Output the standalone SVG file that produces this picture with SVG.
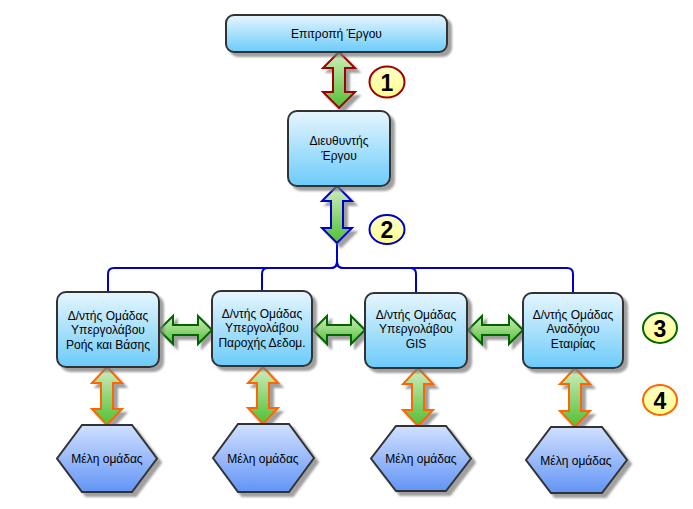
<svg xmlns="http://www.w3.org/2000/svg" width="693" height="509" viewBox="0 0 693 509">
<defs>
<linearGradient id="gBox" x1="0" y1="0" x2="0" y2="1"><stop offset="0" stop-color="#e6f6fe"/><stop offset="1" stop-color="#6ccbfa"/></linearGradient>
<linearGradient id="gHex" x1="0" y1="0" x2="0" y2="1"><stop offset="0" stop-color="#d0e0ff"/><stop offset="1" stop-color="#6294f6"/></linearGradient>
<linearGradient id="gArr" x1="0" y1="0" x2="0" y2="1"><stop offset="0" stop-color="#d2edc0"/><stop offset="1" stop-color="#50c032"/></linearGradient>
<linearGradient id="gCirc" x1="0" y1="0" x2="0" y2="1"><stop offset="0" stop-color="#ffffc8"/><stop offset="1" stop-color="#ffff90"/></linearGradient>
<filter id="sh" x="-20%" y="-20%" width="150%" height="150%">
<feGaussianBlur in="SourceAlpha" stdDeviation="0.8" result="b"/>
<feOffset in="b" dx="4" dy="4" result="o"/>
<feFlood flood-color="#777" flood-opacity="0.7"/>
<feComposite in2="o" operator="in" result="s"/>
<feMerge><feMergeNode in="s"/><feMergeNode in="SourceGraphic"/></feMerge>
</filter>
</defs>
<style>
.box{fill:url(#gBox);stroke:#333;stroke-width:2;filter:url(#sh)}
.hex{fill:url(#gHex);stroke:#333;stroke-width:2;filter:url(#sh)}
.arr{fill:url(#gArr);stroke-width:2;stroke-linejoin:miter;filter:url(#sh)}
.red{stroke:#a00000}.blue{stroke:#0000cc}.green{stroke:#006600}.orange{stroke:#ff6600}
.circ{fill:url(#gCirc);stroke-width:2}
.t{font-family:"Liberation Sans",Arial,sans-serif;font-size:12px;fill:#000;text-anchor:middle}
.n{font-family:"Liberation Sans",Arial,sans-serif;font-size:23px;font-weight:bold;fill:#000;text-anchor:middle}
.br{fill:none;stroke:#0000cc;stroke-width:2}
</style>

<g id="connectors">
<path class="br" d="M337,243 V262 Q337,268 331,268 H114 Q108,268 108,274 V292"/>
<path class="br" d="M337,243 V262 Q337,268 331,268 H268 Q262,268 262,274 V292"/>
<path class="br" d="M337,243 V262 Q337,268 343,268 H410 Q416,268 416,274 V293"/>
<path class="br" d="M337,243 V262 Q337,268 343,268 H567 Q573,268 573,274 V293"/>
<polygon id="arrow1" class="arr red" points="339,52 355,68 345,68 345,92 355,92 339,108 323,92 333,92 333,68 323,68"/>
<polygon id="arrow2" class="arr blue" points="337,186 352,201 343,201 343,228 352,228 337,243 322,228 331,228 331,201 322,201"/>
<polygon class="arr green" points="159,330 173,316 173,325 198,325 198,316 212,330 198,344 198,335 173,335 173,344"/>
<polygon class="arr green" points="313,330 327,316 327,325 351,325 351,316 365,330 351,344 351,335 327,335 327,344"/>
<polygon class="arr green" points="468,330 482,316 482,325 509,325 509,316 523,330 509,344 509,335 482,335 482,344"/>
<polygon class="arr orange" points="107,367 122,383 113,383 113,409 122,409 107,425 92,409 101,409 101,383 92,383"/>
<polygon class="arr orange" points="263,367 278,383 269,383 269,408 278,408 263,424 248,408 257,408 257,383 248,383"/>
<polygon class="arr orange" points="418,368 433,384 424,384 424,410 433,410 418,426 403,410 412,410 412,384 403,384"/>
<polygon class="arr orange" points="575,368 590,384 581,384 581,411 590,411 575,427 560,411 569,411 569,384 560,384"/>
</g>

<g id="n-committee">
<rect class="box" x="226" y="15" width="221" height="37" rx="8"/>
<text class="t" x="336.5" y="37.5">Επιτροπή Έργου</text>
</g>
<g id="n-director">
<rect class="box" x="288" y="111" width="102" height="75" rx="9"/>
<text class="t" x="339" y="145">Διευθυντής</text>
<text class="t" x="339" y="159.5">Έργου</text>
</g>
<g id="n-lead1">
<rect class="box" x="57" y="292" width="102" height="75" rx="9"/>
<text class="t" x="108" y="319.5">Δ/ντής Ομάδας</text>
<text class="t" x="108" y="334">Υπεργολάβου</text>
<text class="t" x="108" y="348.5">Ροής και Βάσης</text>
</g>
<g id="n-lead2">
<rect class="box" x="212" y="291" width="100" height="75" rx="9"/>
<text class="t" x="262" y="317.5">Δ/ντής Ομάδας</text>
<text class="t" x="262" y="332">Υπεργολάβου</text>
<text class="t" x="262" y="346.5">Παροχής Δεδομ.</text>
</g>
<g id="n-lead3">
<rect class="box" x="365" y="293" width="102" height="75" rx="9"/>
<text class="t" x="416" y="318.5">Δ/ντής Ομάδας</text>
<text class="t" x="416" y="333">Υπεργολάβου</text>
<text class="t" x="416" y="347.5">GIS</text>
</g>
<g id="n-lead4">
<rect class="box" x="523" y="293" width="100" height="75" rx="9"/>
<text class="t" x="573" y="318.5">Δ/ντής Ομάδας</text>
<text class="t" x="573" y="333">Αναδόχου</text>
<text class="t" x="573" y="347.5">Εταιρίας</text>
</g>
<g id="n-members1">
<polygon class="hex" points="82,425 132,425 157,458.5 132,492 82,492 57,458.5"/>
<text class="t" x="107" y="463">Μέλη ομάδας</text>
</g>
<g id="n-members2">
<polygon class="hex" points="238,424 289,424 314,458 289,492 238,492 213,458"/>
<text class="t" x="263" y="462.5">Μέλη ομάδας</text>
</g>
<g id="n-members3">
<polygon class="hex" points="396,426 446,426 471,458.5 446,491 396,491 371,458.5"/>
<text class="t" x="421" y="463">Μέλη ομάδας</text>
</g>
<g id="n-members4">
<polygon class="hex" points="551,427 602,427 627,460 602,493 551,493 526,460"/>
<text class="t" x="576" y="464.5">Μέλη ομάδας</text>
</g>

<g id="n-badge1">
<ellipse class="circ red" cx="387" cy="82" rx="17.5" ry="15.5"/>
<text class="n" x="387" y="90.5">1</text>
</g>
<g id="n-badge2">
<ellipse class="circ blue" cx="387" cy="229.5" rx="17.5" ry="14.5"/>
<text class="n" x="387" y="237.5">2</text>
</g>
<g id="n-badge3">
<ellipse class="circ green" cx="660" cy="328" rx="17" ry="15"/>
<text class="n" x="660" y="336.5">3</text>
</g>
<g id="n-badge4">
<ellipse class="circ orange" cx="660" cy="400" rx="17" ry="15"/>
<text class="n" x="660" y="408.5">4</text>
</g>
</svg>
